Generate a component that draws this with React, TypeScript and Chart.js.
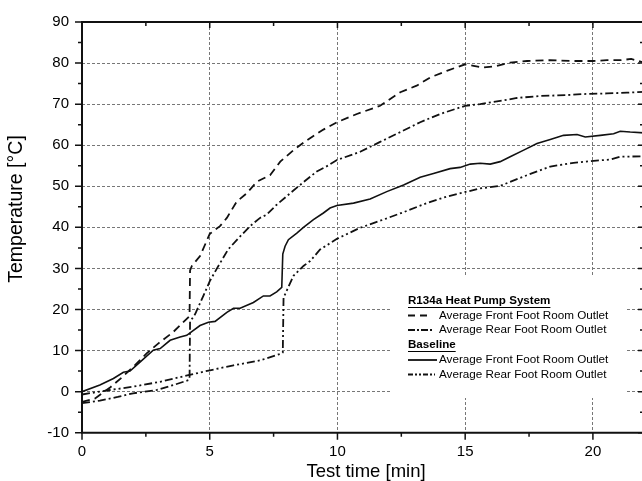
import React, { useEffect, useRef } from "react";
import { Chart, registerables } from "chart.js";

Chart.register(...registerables);

// ---- axis ticks ----
const xTickValues = [0, 5, 10, 15, 20];
const yTickValues = [-10, 0, 10, 20, 30, 40, 50, 60, 70, 80, 90];

// ---- R134a Heat Pump System: Average Front Foot Room Outlet (dashed) ----
const hpFrontTime = [0, 0.5, 1.1, 1.55, 2.0, 2.53, 2.98, 3.57, 4.16, 4.21, 4.23, 4.3, 4.62, 5.0, 5.4, 5.67, 6.06, 6.45, 6.84, 7.36, 7.76, 8.28, 8.8, 9.45, 9.98, 10.76, 11.67, 12.46, 13.1, 13.63, 14.28, 15.0, 15.33, 15.7, 16.24, 16.76, 17.42, 18.33, 19.24, 20.0, 20.55, 21.07, 21.5, 22];
const hpFrontTemp = [-2.5, -1.7, 1.0, 3.4, 6.0, 9.3, 11.7, 14.5, 18.1, 18.5, 29.5, 30.6, 33.0, 38.4, 40.3, 42.3, 46.3, 48.3, 51.1, 52.7, 56.0, 58.8, 61.2, 63.8, 65.6, 67.6, 69.6, 72.9, 74.5, 76.5, 78.1, 79.7, 79.3, 78.9, 79.3, 80.1, 80.5, 80.7, 80.5, 80.5, 80.7, 80.7, 81.0, 80.1];

// ---- R134a Heat Pump System: Average Rear Foot Room Outlet (dash-dot) ----
const hpRearTime = [0, 0.7, 1.4, 2.0, 2.93, 3.58, 4.17, 4.21, 4.23, 4.43, 4.75, 5.01, 5.3, 5.72, 6.1, 6.58, 6.97, 7.23, 7.62, 8.15, 8.67, 9.19, 9.65, 9.98, 10.89, 11.67, 12.46, 13.24, 14.02, 15.0, 15.59, 16.37, 17.03, 17.94, 18.98, 19.77, 20.55, 21.33, 22];
const hpRearTemp = [-2.8, -2.2, -1.3, -0.4, 0.4, 1.6, 2.8, 3.0, 17.0, 18.9, 23.3, 27.0, 30.2, 34.6, 37.2, 40.3, 42.3, 43.1, 45.5, 48.3, 51.0, 53.6, 55.1, 56.4, 58.4, 60.8, 63.2, 65.6, 67.6, 69.6, 70.0, 70.8, 71.5, 72.0, 72.2, 72.5, 72.6, 72.8, 73.0];

// ---- Baseline: Average Front Foot Room Outlet (solid) ----
const baseFrontTime = [0, 0.7, 1.23, 1.62, 1.88, 2.27, 2.79, 3.06, 3.45, 3.84, 4.1, 4.62, 4.95, 5.21, 5.67, 5.93, 6.19, 6.71, 7.1, 7.36, 7.62, 7.82, 7.86, 7.95, 8.08, 8.41, 8.67, 9.06, 9.45, 9.71, 9.98, 10.63, 11.28, 11.93, 12.59, 13.24, 13.76, 14.41, 14.8, 15.2, 15.59, 15.98, 16.37, 16.76, 17.29, 17.81, 18.33, 18.85, 19.38, 19.7, 20.29, 20.81, 21.07, 21.46, 22];
const baseFrontTemp = [0, 1.6, 3.2, 4.7, 5.0, 7.2, 10.1, 10.5, 12.5, 13.3, 13.7, 16.1, 16.9, 17.1, 19.3, 20.3, 20.3, 21.7, 23.3, 23.3, 24.3, 25.4, 33.5, 35.4, 37.0, 38.6, 40.0, 41.9, 43.5, 44.7, 45.3, 45.9, 46.9, 48.7, 50.3, 52.2, 53.1, 54.3, 54.6, 55.4, 55.6, 55.4, 56.0, 57.2, 58.8, 60.4, 61.4, 62.4, 62.6, 62.0, 62.4, 62.8, 63.4, 63.2, 63.0];

// ---- Baseline: Average Rear Foot Room Outlet (dash-dot-dot) ----
const baseRearTime = [0, 1.1, 2.0, 3.06, 4.16, 5.01, 5.93, 6.97, 7.82, 7.86, 7.89, 8.28, 8.67, 8.93, 9.32, 9.98, 10.89, 11.8, 12.59, 13.5, 14.28, 15.07, 15.59, 16.37, 17.42, 18.33, 19.24, 20.03, 20.68, 21.07, 22];
const baseRearTemp = [-0.7, 0.4, 1.2, 2.4, 4.0, 5.2, 6.4, 7.6, 9.3, 9.5, 22.9, 28.2, 30.6, 31.8, 34.6, 37.2, 39.9, 41.9, 43.7, 45.9, 47.5, 48.7, 49.5, 50.1, 52.7, 54.8, 55.7, 56.2, 56.5, 57.2, 57.3];

// ---- texts ----
const xTitle = "Test time [min]";
const yTitle = "Temperature [°C]";
const legendGroups = ["R134a Heat Pump System", "Baseline"];
const legendLabels = ["Average Front Foot Room Outlet", "Average Rear Foot Room Outlet"];

const FONT = "Arial, 'Liberation Sans', Helvetica, sans-serif";
const INK = "#111";
const DASHED = [8, 5];
const DASH_DOT = [8, 3, 2, 3];
const DASH_DOT_DOT = [8, 3, 2, 3, 2, 3];

function pts(ts: number[], vs: number[]) {
  return ts.map((t, i) => ({ x: t, y: vs[i] }));
}

const framePlugin = {
  id: "framePlugin",
  afterDatasetsDraw(chart: any) {
    const { ctx, chartArea: a, scales } = chart;
    const xs = scales.x;
    const ys = scales.y;
    ctx.save();

    // legend box (covers grid)
    ctx.fillStyle = "#fff";
    ctx.fillRect(392, 277, 233, 121);

    // axes frame
    ctx.strokeStyle = INK;
    ctx.lineWidth = 2;
    ctx.setLineDash([]);
    ctx.beginPath();
    ctx.moveTo(a.left, a.top);
    ctx.lineTo(a.left, a.bottom);
    ctx.lineTo(a.right, a.bottom);
    ctx.moveTo(a.left - 1, a.top);
    ctx.lineTo(a.right, a.top);
    ctx.moveTo(a.right, a.top);
    ctx.lineTo(a.right, a.bottom);
    ctx.stroke();

    // ticks
    ctx.lineWidth = 1.5;
    ctx.beginPath();
    for (let v = 0; v <= 22.001; v += 2.5) {
      const px = xs.getPixelForValue(v);
      const major = Math.abs(v % 5) < 1e-6;
      ctx.moveTo(px, a.bottom);
      ctx.lineTo(px, a.bottom + (major ? 7 : 4));
      ctx.moveTo(px, a.top);
      ctx.lineTo(px, a.top + (major ? 6 : 4));
    }
    for (let v = -10; v <= 90.001; v += 5) {
      const py = ys.getPixelForValue(v);
      const major = Math.abs(v % 10) < 1e-6;
      ctx.moveTo(a.left, py);
      ctx.lineTo(a.left - (major ? 7 : 4), py);
      ctx.moveTo(a.right, py);
      ctx.lineTo(a.right - (major ? 6 : 4), py);
    }
    ctx.stroke();

    // legend content
    const lx = 408;
    const tx = 439;
    const rows = [301, 315.5, 330, 345, 360, 374.5];
    ctx.fillStyle = "#000";
    ctx.textBaseline = "middle";
    ctx.textAlign = "left";
    const header = (text: string, y: number) => {
      ctx.font = `bold 11.6px ${FONT}`;
      ctx.fillText(text, lx, y);
      const w = ctx.measureText(text).width;
      ctx.setLineDash([]);
      ctx.lineWidth = 1;
      ctx.strokeStyle = "#000";
      ctx.beginPath();
      ctx.moveTo(lx, y + 6.5);
      ctx.lineTo(lx + w, y + 6.5);
      ctx.stroke();
    };
    const item = (text: string, y: number, dash: number[], x2: number) => {
      ctx.setLineDash(dash);
      ctx.lineWidth = 1.8;
      ctx.strokeStyle = INK;
      ctx.beginPath();
      ctx.moveTo(lx, y);
      ctx.lineTo(x2, y);
      ctx.stroke();
      ctx.setLineDash([]);
      ctx.font = `11.7px ${FONT}`;
      ctx.fillStyle = "#000";
      ctx.fillText(text, tx, y);
    };
    header(legendGroups[0], rows[0]);
    item(legendLabels[0], rows[1], [7, 5], 429);
    item(legendLabels[1], rows[2], [7, 2, 2, 2], 434);
    header(legendGroups[1], rows[3]);
    item(legendLabels[0], rows[4], [], 437);
    item(legendLabels[1], rows[5], [5, 2, 2, 2, 2, 2], 435);

    ctx.restore();
  },
  afterDraw(chart: any) {
    const { ctx } = chart;
    ctx.save();
    ctx.fillStyle = "#000";
    ctx.textAlign = "center";
    ctx.textBaseline = "alphabetic";
    ctx.font = `18.5px ${FONT}`;
    ctx.fillText(xTitle, 366, 476.5);
    ctx.translate(22, 209);
    ctx.rotate(-Math.PI / 2);
    ctx.font = `19.5px ${FONT}`;
    ctx.fillText(yTitle, 0, 0);
    ctx.restore();
  },
};

export default function App() {
  const ref = useRef<HTMLCanvasElement | null>(null);

  useEffect(() => {
    if (!ref.current) return;
    const common = { pointRadius: 0, borderColor: INK, fill: false, tension: 0 };
    const chart = new Chart(ref.current, {
      type: "line",
      data: {
        datasets: [
          { ...common, label: "HP front", data: pts(hpFrontTime, hpFrontTemp), borderDash: DASHED, borderWidth: 1.8 },
          { ...common, label: "HP rear", data: pts(hpRearTime, hpRearTemp), borderDash: DASH_DOT, borderWidth: 1.8 },
          { ...common, label: "Base front", data: pts(baseFrontTime, baseFrontTemp), borderWidth: 1.6 },
          { ...common, label: "Base rear", data: pts(baseRearTime, baseRearTemp), borderDash: DASH_DOT_DOT, borderWidth: 1.8 },
        ] as any,
      },
      options: {
        animation: false,
        responsive: false,
        devicePixelRatio: 1,
        layout: { padding: { left: 0, top: 17.5, right: 0, bottom: 0 } },
        plugins: { legend: { display: false }, tooltip: { enabled: false } },
        scales: {
          x: {
            type: "linear",
            min: 0,
            max: 22,
            afterFit: (s: any) => { s.height = 48.3; },
            afterBuildTicks: (s: any) => { s.ticks = xTickValues.map((v) => ({ value: v })); },
            grid: { color: "#777", lineWidth: 1, drawTicks: false },
            border: { display: false, dash: [3, 2] },
            ticks: { color: "#000", padding: 10, font: { family: FONT, size: 15 }, maxRotation: 0 },
          },
          y: {
            type: "linear",
            min: -10,
            max: 90,
            afterFit: (s: any) => { s.width = 82; },
            afterBuildTicks: (s: any) => { s.ticks = yTickValues.map((v) => ({ value: v })); },
            grid: { color: "#777", lineWidth: 1, drawTicks: false },
            border: { display: false, dash: [3, 2] },
            ticks: { color: "#000", padding: 13, font: { family: FONT, size: 15 } },
          },
        },
      } as any,
      plugins: [framePlugin],
    });
    return () => chart.destroy();
  }, []);

  return (
    <div style={{ position: "fixed", left: 0, top: 0, width: 642, height: 481, overflow: "hidden", background: "#fff" }}>
      <canvas ref={ref} width={644} height={481} style={{ display: "block", width: 644, height: 481 }} />
    </div>
  );
}
